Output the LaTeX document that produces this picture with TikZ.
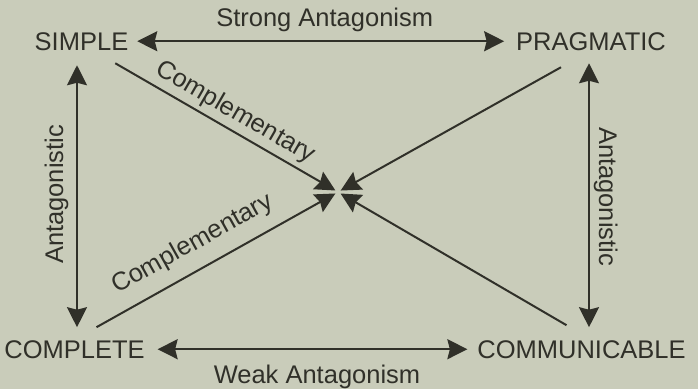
\documentclass[tikz,border=0pt]{standalone}
\usepackage{fontspec}
\setmainfont{Liberation Sans}
\usepackage{tikz}
\usetikzlibrary{arrows.meta, calc}
\definecolor{paper}{HTML}{C9CCBA}
\definecolor{ink}{HTML}{303029}
\newcommand{\diagfont}{\fontsize{25.5}{30}\selectfont}
\tikzstyle{termbox} = [inner sep=0pt, outer sep=0pt, font=\diagfont, text=ink]
\tikzstyle{linklabel} = [inner sep=0pt, font=\diagfont, text=ink]
\tikzstyle{arrow} = [line width=2pt, draw=ink, -{Stealth[length=20pt, width=20pt, inset=2.5pt]}]
\tikzstyle{dblarrow} = [arrow, {Stealth[length=20pt, width=20pt, inset=2.5pt]}-{Stealth[length=20pt, width=20pt, inset=2.5pt]}]

\begin{document}
\begin{tikzpicture}[x=1pt, y=-1pt]
  \fill[paper] (0,0) rectangle (698,389);
  \useasboundingbox (0,0) rectangle (698,389);

  \node (simple) [termbox, anchor=base] at (81.5,50) {SIMPLE};
  \node (pragmatic) [termbox, anchor=base] at (591,50) {PRAGMATIC};
  \node (complete) [termbox, anchor=base] at (74.5,358) {COMPLETE};
  \node (communicable) [termbox, anchor=base] at (581.5,358) {COMMUNICABLE};
  \coordinate (hub) at (338,192);

  \draw[dblarrow] ([xshift=9pt]simple.east) -- ([xshift=-12pt]pragmatic.west)
    node[linklabel, midway, above=8.5pt, xshift=4pt] (strong) {Strong Antagonism};
  \draw[dblarrow] ([xshift=13pt]complete.east) -- ([xshift=-10pt]communicable.west)
    node[linklabel, midway, below=15pt, xshift=4.5pt] (weak) {Weak Antagonism};

  \draw[dblarrow] ([xshift=2.5pt, yshift=13pt]complete.north) -- ([xshift=-4.5pt, yshift=-15pt]simple.south);
  \draw[dblarrow] ([xshift=-2pt, yshift=-13pt]pragmatic.south) -- ([xshift=7.5pt, yshift=13pt]communicable.north);
  \node (antleft) [linklabel, rotate=90, anchor=base] at (63,194.5) {Antagonistic};
  \node (antright) [linklabel, rotate=-90, anchor=base] at (599,196.5) {Antagonistic};

  \draw[arrow, shorten >=3pt] ([xshift=-13pt, yshift=-13pt]simple.south east) -- (hub)
    node[linklabel, midway, sloped, above=4.5pt] (compupper) {Complementary};
  \draw[arrow, shorten >=3pt] ([xshift=-30pt, yshift=-17pt]pragmatic.south) -- (hub);
  \draw[arrow, shorten >=3pt] ([xshift=22pt, yshift=13pt]complete.north) -- (hub)
    node[linklabel, pos=0.45, sloped, above=12.5pt] (complower) {Complementary};
  \draw[arrow, shorten >=3pt] ([xshift=-15pt, yshift=15pt]communicable.north) -- (hub);
\end{tikzpicture}
\end{document}
